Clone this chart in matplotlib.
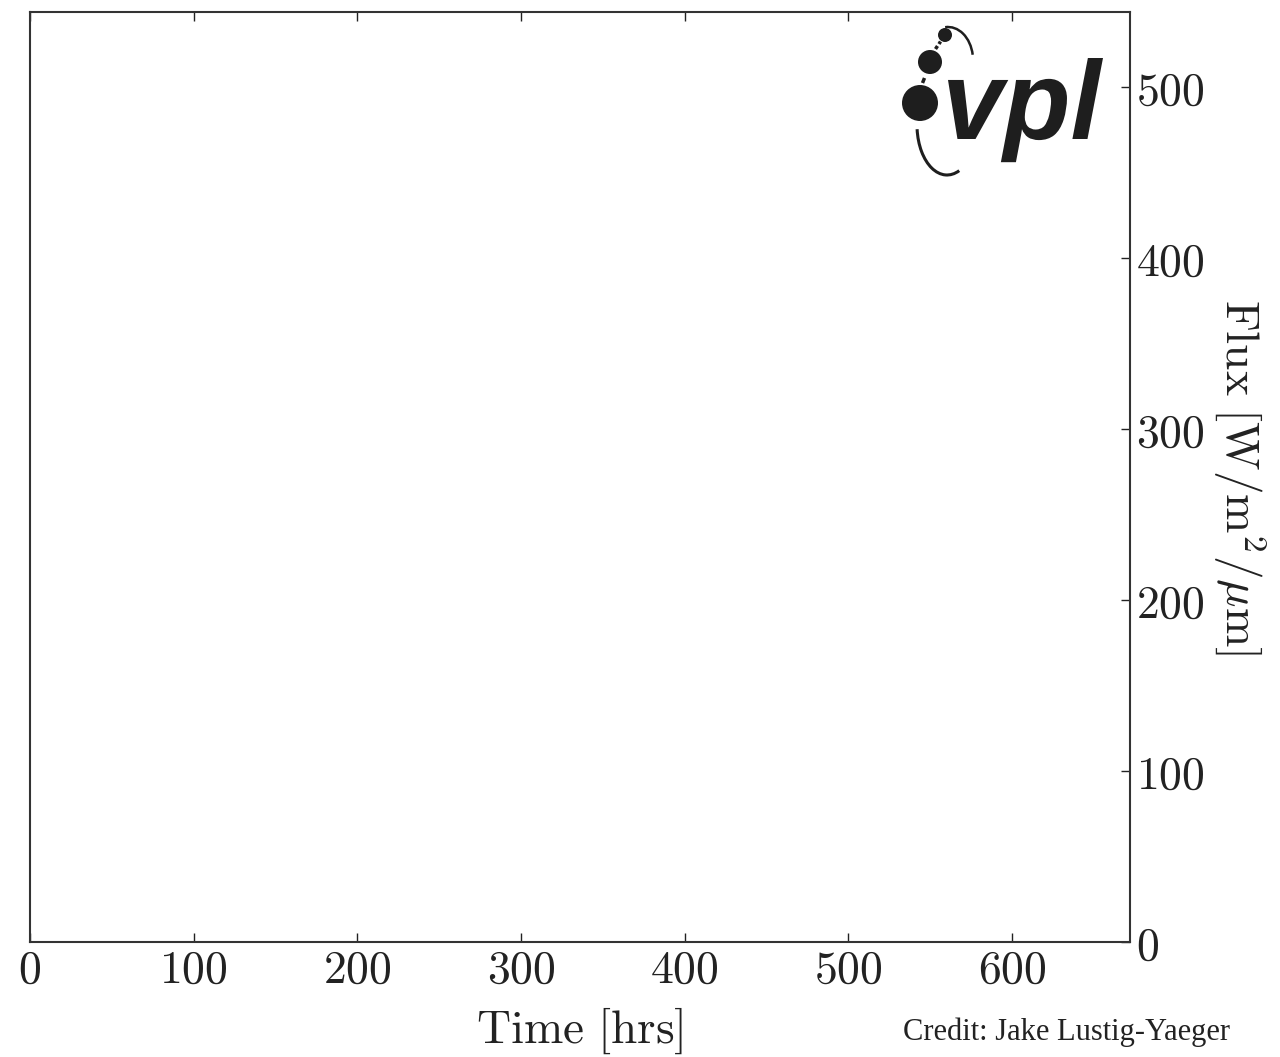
import matplotlib
matplotlib.use("Agg")
import matplotlib.pyplot as plt
import matplotlib.transforms as mtransforms
from matplotlib.patches import Circle, Arc, PathPatch
from matplotlib.textpath import TextPath
from matplotlib.font_manager import FontProperties
from matplotlib.ticker import FuncFormatter

plt.rcParams["mathtext.fontset"] = "cm"

# axis ranges and ticks
X_LIM = (0, 672)
Y_LIM = (0, 544)
X_TICKS = [0, 100, 200, 300, 400, 500, 600]
Y_TICKS = [0, 100, 200, 300, 400, 500]
X_LABEL = r"$\mathrm{Time\ [hrs]}$"
Y_LABEL = r"$\mathrm{Flux\ [W/m^2/}\mu\mathrm{m]}$"
CREDIT = "Credit: Jake Lustig-Yaeger"
LOGO_TEXT = "vpl"

W, H = 1280, 1057
INK = "#222222"

fig = plt.figure(figsize=(W / 100, H / 100), dpi=100)
ax = fig.add_axes([30 / W, (H - 942) / H, 1100 / W, 930 / H])
ax.set_xlim(*X_LIM)
ax.set_ylim(*Y_LIM)
ax.set_xticks(X_TICKS)
ax.set_yticks(Y_TICKS)
ax.xaxis.set_major_formatter(FuncFormatter(lambda v, p: f"${int(v)}$"))
ax.yaxis.set_major_formatter(FuncFormatter(lambda v, p: f"${int(v)}$"))
ax.yaxis.tick_right()
ax.yaxis.set_label_position("right")
ax.tick_params(direction="in", length=6.5, width=1, top=True, bottom=True, left=False, right=True,
               labelsize=33, labelleft=False, labelright=True, pad=4, colors=INK)
for s in ax.spines.values():
    s.set_linewidth(1.5)
    s.set_color("#333333")
ax.set_xlabel(X_LABEL, fontsize=34, labelpad=9, color=INK)
ax.set_ylabel(Y_LABEL, fontsize=34, rotation=270, labelpad=46, color=INK)

# overlay in pixel coordinates (y down) for the logo and the credit line
ov = fig.add_axes([0, 0, 1, 1], zorder=5)
ov.set_xlim(0, W)
ov.set_ylim(H, 0)
ov.axis("off")
ov.patch.set_alpha(0)

logo = "#1e1e1e"
ov.add_patch(Circle((920, 103), 18, color=logo, lw=0))
ov.add_patch(Circle((930, 62), 12, color=logo, lw=0))
ov.add_patch(Circle((945, 35), 7, color=logo, lw=0))
ov.plot([922.5, 924.5], [83, 78], color=logo, lw=2.5, solid_capstyle="butt")
ov.plot([935.5, 937.5], [49, 46], color=logo, lw=2.5, solid_capstyle="butt")
ov.plot([939, 940.5], [44, 41.5], color=logo, lw=2.5, solid_capstyle="butt")
ov.add_patch(Arc((947, 125), 60, 100, theta1=75, theta2=172, color=logo, lw=2.2))
ov.add_patch(Arc((948, 60), 50, 66, theta1=265, theta2=348, color=logo, lw=1.8))

tp = TextPath((0, 0), LOGO_TEXT, size=100,
              prop=FontProperties(family="Liberation Sans", weight="bold", style="italic"))
bb = tp.get_extents()
sx = 155 / (bb.x1 - bb.x0)
sy = 81 / bb.y1
tr = mtransforms.Affine2D().translate(-bb.x0, 0).scale(sx, -sy).translate(948, 139)
ov.add_patch(PathPatch(tr.transform_path(tp), color=logo, lw=0))

ov.text(1230, 1040, CREDIT, fontsize=22, family="Liberation Serif", color=INK,
        ha="right", va="baseline")

fig.savefig("out.png", dpi=100)
